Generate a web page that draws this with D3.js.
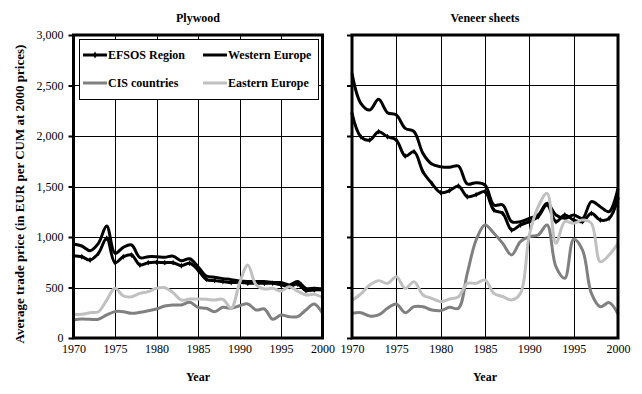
<!DOCTYPE html>
<html>
<head>
<meta charset="utf-8">
<script src="https://cdn.jsdelivr.net/npm/d3@7"></script>
<style>
  body { margin: 0; background: #fff; }
  svg text { font-family: "Liberation Serif", "Times New Roman", serif; fill: #000; }
</style>
</head>
<body>
<div id="chart"></div>
<script>
const years = d3.range(1970, 2001);
const xTicks = [1970, 1975, 1980, 1985, 1990, 1995, 2000];
const yTicks = [0, 500, 1000, 1500, 2000, 2500, 3000];

const seriesNames = ["EFSOS Region", "Western Europe", "CIS countries", "Eastern Europe"];
const seriesColors = ["#000000", "#000000", "#808080", "#c0c0c0"];

// Plywood, 1970-2000
const plywoodEfsos = [815, 805, 772, 838, 987, 746, 805, 822, 723, 746, 749, 746, 746, 716, 740, 673,
    581, 568, 559, 549, 552, 542, 542, 542, 542, 526, 509, 533, 470, 476, 476];
const plywoodWestern = [931, 911, 865, 937, 1109, 838, 898, 921, 795, 805, 805, 800, 810, 765, 785, 706,
    614, 601, 588, 578, 564, 559, 559, 559, 549, 549, 526, 559, 492, 492, 485];
const plywoodCis = [178, 188, 185, 185, 228, 261, 261, 244, 254, 270, 287, 317, 327, 327, 353, 304,
    294, 261, 304, 294, 320, 337, 277, 287, 185, 228, 211, 211, 277, 337, 244];
const plywoodEastern = [234, 234, 251, 260, 376, 492, 416, 409, 442, 459, 492, 498, 449, 376, 386, 386,
    383, 376, 383, 294, 541, 723, 525, 485, 492, 465, 508, 465, 426, 432, 402];

// Veneer sheets, 1970-2000
const veneerEfsos = [2225, 1993, 1960, 2043, 1993, 1960, 1802, 1845, 1647, 1531, 1439, 1459, 1505, 1399, 1419, 1449,
    1267, 1234, 1069, 1119, 1152, 1201, 1320, 1152, 1218, 1168, 1152, 1234, 1168, 1185, 1383];
const veneerWestern = [2620, 2323, 2257, 2363, 2231, 2208, 2076, 2043, 1828, 1722, 1696, 1690, 1703, 1525, 1538, 1515,
    1317, 1317, 1152, 1152, 1185, 1218, 1333, 1218, 1185, 1218, 1185, 1350, 1300, 1251, 1482];
const veneerCis = [244, 251, 218, 228, 294, 337, 251, 310, 310, 277, 271, 304, 294, 640, 970, 1119,
    1037, 937, 822, 954, 1003, 1020, 1119, 706, 591, 977, 871, 442, 310, 350, 238];
const veneerEastern = [370, 436, 525, 568, 541, 607, 492, 558, 426, 393, 360, 386, 409, 541, 541, 574,
    442, 409, 376, 442, 1020, 1300, 1432, 937, 1152, 1135, 1168, 1135, 755, 822, 937];

const W = 642, H = 394;
const plotTop = 35, plotBottom = 338;

const svg = d3.select("#chart").append("svg")
    .attr("width", W)
    .attr("height", H);

const y = d3.scaleLinear().domain([0, 3000]).range([plotBottom, plotTop]);

function drawPanel(title, left, right, data, showLabels, showLegend) {
    let x = d3.scaleLinear().domain([1970, 2000]).range([left, right]);
    let g = svg.append("g");

    // gridlines
    g.selectAll(null)
        .data(xTicks.slice(1, -1))
        .enter().append("line")
        .attr("x1", d => Math.round(x(d)) + 0.5).attr("x2", d => Math.round(x(d)) + 0.5)
        .attr("y1", plotTop).attr("y2", plotBottom)
        .attr("stroke", "#000").attr("stroke-width", 1);
    g.selectAll(null)
        .data(yTicks.slice(1, -1))
        .enter().append("line")
        .attr("x1", left).attr("x2", right)
        .attr("y1", d => Math.round(y(d)) + 0.5).attr("y2", d => Math.round(y(d)) + 0.5)
        .attr("stroke", "#000").attr("stroke-width", 1);

    // y axis ticks
    let yAxis = d3.axisLeft(y)
        .tickValues(yTicks)
        .tickSize(5)
        .tickPadding(5)
        .tickFormat(showLabels ? d3.format(",") : "");
    let yG = g.append("g")
        .attr("transform", "translate(" + left + ",0)")
        .call(yAxis);
    yG.select(".domain").remove();
    yG.selectAll("line").attr("stroke-width", 2);
    yG.selectAll("text").style("font-size", "12px").style("font-family", "Liberation Serif, serif");

    // x axis labels
    let xAxis = d3.axisBottom(x)
        .tickValues(xTicks)
        .tickSize(0)
        .tickPadding(6)
        .tickFormat(d3.format("d"));
    let xG = g.append("g")
        .attr("transform", "translate(0," + plotBottom + ")")
        .call(xAxis);
    xG.select(".domain").remove();
    xG.selectAll("text").style("font-size", "12px").style("font-family", "Liberation Serif, serif");

    // legend box (drawn under the lines)
    if (showLegend) {
        let lg = g.append("g");
        lg.append("rect")
            .attr("x", 79.5).attr("y", 39.5)
            .attr("width", 239).attr("height", 60)
            .attr("fill", "#fff").attr("stroke", "#000").attr("stroke-width", 1);
        let pos = [[83, 55], [203, 55], [83, 83], [203, 83]];
        seriesNames.forEach((name, i) => {
            lg.append("line")
                .attr("x1", pos[i][0]).attr("x2", pos[i][0] + 24)
                .attr("y1", pos[i][1]).attr("y2", pos[i][1])
                .attr("stroke", seriesColors[i]).attr("stroke-width", 3);
            if (i === 0) {
                lg.append("path")
                    .attr("d", d3.symbol().type(d3.symbolDiamond).size(14)())
                    .attr("transform", "translate(" + (pos[i][0] + 12) + "," + pos[i][1] + ")")
                    .attr("fill", "#000");
            }
            lg.append("text")
                .attr("x", pos[i][0] + 25)
                .attr("y", pos[i][1] + 4)
                .style("font-size", "12px")
                .style("font-weight", "bold")
                .text(name);
        });
    }

    // series lines
    let line = d3.line()
        .x((d, i) => x(years[i]))
        .y(d => y(d))
        .curve(d3.curveCatmullRom.alpha(0.5));

    data.forEach((s, i) => {
        g.append("path")
            .datum(s)
            .attr("d", line)
            .attr("fill", "none")
            .attr("stroke", seriesColors[i])
            .attr("stroke-width", 3)
            .attr("stroke-linejoin", "round");
        if (i === 0) {
            g.selectAll(null)
                .data(s)
                .enter().append("path")
                .attr("d", d3.symbol().type(d3.symbolDiamond).size(10)())
                .attr("transform", (d, j) => "translate(" + x(years[j]) + "," + y(d) + ")")
                .attr("fill", "#000");
        }
    });

    // frame
    g.append("rect")
        .attr("x", left).attr("y", plotTop)
        .attr("width", right - left).attr("height", plotBottom - plotTop)
        .attr("fill", "none").attr("stroke", "#000").attr("stroke-width", 3);

    // titles
    g.append("text")
        .attr("x", (left + right) / 2)
        .attr("y", 22)
        .attr("text-anchor", "middle")
        .style("font-size", "12px")
        .style("font-weight", "bold")
        .text(title);
    g.append("text")
        .attr("x", (left + right) / 2)
        .attr("y", 381)
        .attr("text-anchor", "middle")
        .style("font-size", "12px")
        .style("font-weight", "bold")
        .text("Year");
}

drawPanel("Plywood", 73.5, 322.5, [plywoodEfsos, plywoodWestern, plywoodCis, plywoodEastern], true, true);
drawPanel("Veneer sheets", 352, 618, [veneerEfsos, veneerWestern, veneerCis, veneerEastern], false, false);

svg.append("text")
    .attr("transform", "translate(24,194) rotate(-90)")
    .attr("text-anchor", "middle")
    .style("font-size", "13px")
    .style("font-weight", "bold")
    .text("Average trade price (in EUR per CUM at 2000 prices)");
</script>
</body>
</html>
